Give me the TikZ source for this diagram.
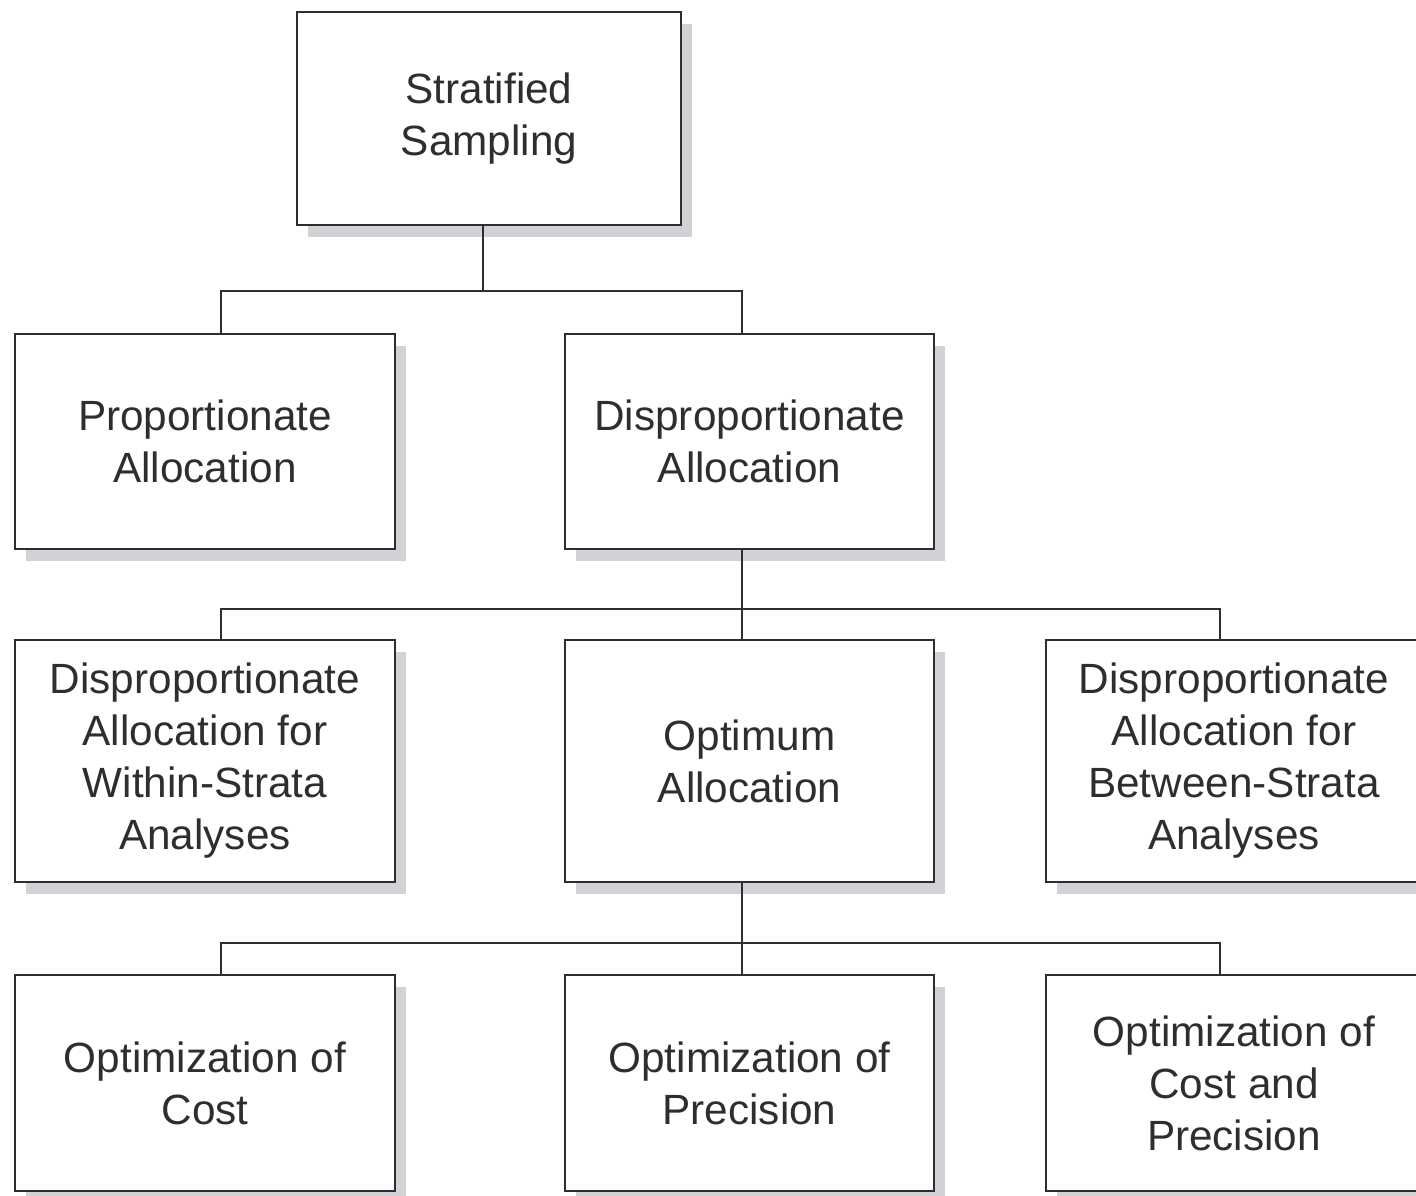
\documentclass[tikz,border=0pt]{standalone}
\usepackage{fontspec}
\setmainfont{Liberation Sans}
\usetikzlibrary{shadows}
\definecolor{inkgray}{HTML}{2E2E2E}
\definecolor{shadegray}{HTML}{D0D2D5}
\tikzset{
  box/.style={draw=inkgray, line width=2.4pt, fill=white, rectangle,
    inner sep=0pt, align=center, text=inkgray,
    font=\fontsize{42.3pt}{52pt}\selectfont,
    drop shadow={shadow xshift=11pt, shadow yshift=-12pt, fill=shadegray, opacity=1}},
  conn/.style={draw=inkgray, line width=2.4pt}
}
\begin{document}
\begin{tikzpicture}[x=1pt, y=-1pt]
  \useasboundingbox (0,0) rectangle (1416,1196);
  \clip (0,0) rectangle (1416,1196);

  % level 1
  \node[box, minimum width=384pt, minimum height=213pt] (top) at (489,118.5) {Stratified\\Sampling};

  % level 2
  \node[box, minimum width=380pt, minimum height=215pt] (prop) at (205,441.5) {Proportionate\\Allocation};
  \node[box, minimum width=369pt, minimum height=215pt] (disp) at (749.5,441.5) {Disproportionate\\Allocation};

  % level 3
  \node[box, minimum width=380pt, minimum height=242pt] (within) at (205,761) {Disproportionate\\Allocation for\\Within-Strata\\Analyses};
  \node[box, minimum width=369pt, minimum height=242pt] (optimum) at (749.5,761) {Optimum\\Allocation};
  \node[box, minimum width=376pt, minimum height=242pt] (between) at (1234,761) {Disproportionate\\Allocation for\\Between-Strata\\Analyses};

  % level 4
  \node[box, minimum width=380pt, minimum height=216pt] (cost) at (205,1083) {Optimization of\\Cost};
  \node[box, minimum width=369pt, minimum height=216pt] (prec) at (749.5,1083) {Optimization of\\Precision};
  \node[box, minimum width=376pt, minimum height=216pt] (costprec) at (1234,1083) {Optimization of\\Cost and\\Precision};

  % bus lines and drop columns
  \coordinate (busA) at (483,291);
  \coordinate (busB) at (742,609);
  \coordinate (busC) at (742,943);
  \coordinate (colL) at (221,0);
  \coordinate (colM) at (742,0);
  \coordinate (colR) at (1220,0);

  \draw[conn] (top.south -| busA) -- (busA);
  \draw[conn] (prop.north -| colL) |- (busA) -| (disp.north -| colM);

  \draw[conn] (disp.south -| busB) -- (optimum.north -| busB);
  \draw[conn] (within.north -| colL) |- (busB) -| (between.north -| colR);

  \draw[conn] (optimum.south -| busC) -- (prec.north -| busC);
  \draw[conn] (cost.north -| colL) |- (busC) -| (costprec.north -| colR);
\end{tikzpicture}
\end{document}
